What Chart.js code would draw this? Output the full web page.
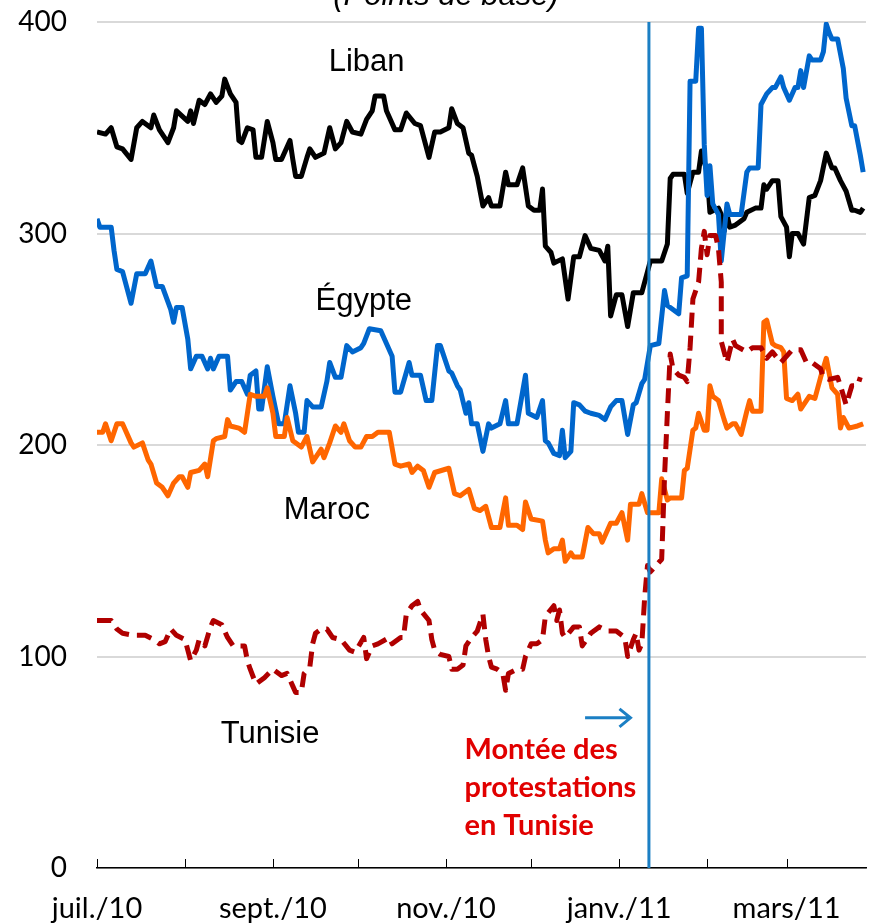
<!DOCTYPE html>
<html>
<head>
<meta charset="utf-8">
<script src="https://cdn.jsdelivr.net/npm/chart.js@4"></script>
<style>
  html, body { margin: 0; padding: 0; background: #fff; }
  #wrap { width: 873px; height: 924px; }
</style>
</head>
<body>
<div id="wrap"><canvas id="spreads" width="873" height="924"></canvas></div>
<script>
// x = days since 1 July 2010, y = spread in basis points
const monthDays = [0, 31, 62, 92, 123, 153, 184, 215, 243];
const monthLabels = ['juil./10', '', 'sept./10', '', 'nov./10', '', 'janv./11', '', 'mars/11'];
const yTicks = [0, 100, 200, 300, 400];
const protestDay = 194.5;

const libanData = [[0,348],[3,347],[5,350],[7,341],[9,340],[12,335],[14,350],[16,353],[19,350],[20,356],[22,349],[25,343],[27,350],[28,358],[32,353],[33,358],[34,352],[36,363],[38,361],[40,366],[42,362],[44,365],[45,373],[47,366],[49,362],[50,344],[51,343],[53,350],[55,349],[56,336],[58,336],[60,353],[62,343],[63,335],[65,335],[68,344],[69,335],[70,327],[72,327],[74,336],[75,340],[77,336],[80,338],[82,350],[84,340],[86,343],[88,353],[90,348],[93,347],[95,354],[97,358],[98,365],[101,365],[102,358],[105,349],[107,349],[109,357],[112,352],[114,351],[117,336],[119,348],[121,348],[124,350],[125,359],[127,352],[129,350],[131,338],[132,337],[134,327],[136,313],[138,317],[139,313],[142,313],[144,329],[145,323],[148,323],[150,331],[152,313],[154,311],[156,311],[157,321],[158,294],[160,291],[161,286],[164,288],[166,269],[168,289],[170,289],[172,299],[174,293],[177,292],[179,287],[180,294],[181,261],[183,271],[185,271],[187,256],[189,272],[192,272],[194,282],[195,287],[199,287],[201,295],[202,326],[203,328],[207,328],[208,319],[210,329],[212,329],[213,339],[215,329],[216,310],[219,312],[220,309],[221,301],[222,309],[223,303],[225,304],[228,307],[229,310],[232,312],[234,312],[235,323],[236,321],[238,325],[240,325],[241,308],[243,303],[244,289],[245,300],[247,300],[249,295],[251,317],[253,318],[255,325],[257,338],[259,331],[260,331],[262,325],[264,320],[266,311],[267,311],[269,310],[270,312]];

const egypteData = [[0,307],[1,303],[5,303],[6,292],[7,283],[9,282],[12,267],[14,281],[17,281],[19,287],[21,275],[23,275],[26,264],[27,258],[28,265],[30,265],[32,250],[33,236],[35,242],[37,242],[39,236],[40,241],[41,236],[43,242],[46,242],[47,226],[49,230],[51,230],[53,224],[54,233],[56,235],[57,217],[58,217],[60,237],[62,223],[64,210],[66,210],[68,228],[70,215],[71,206],[73,206],[74,221],[76,218],[79,218],[81,230],[82,239],[84,232],[86,232],[88,247],[90,244],[93,246],[94,248],[96,255],[100,254],[102,248],[104,242],[105,225],[107,225],[110,239],[111,233],[114,233],[116,221],[118,221],[120,247],[121,247],[124,235],[125,234],[127,228],[128,226],[130,215],[131,220],[132,210],[134,210],[136,197],[138,210],[139,208],[142,210],[144,221],[145,210],[148,210],[151,233],[152,215],[155,213],[157,221],[158,202],[159,201],[161,196],[163,195],[164,207],[165,194],[167,197],[168,220],[170,219],[172,216],[174,215],[177,214],[179,212],[181,218],[183,221],[185,221],[187,205],[189,219],[190,220],[192,229],[193,231],[195,247],[198,248],[200,273],[201,266],[202,265],[205,262],[206,279],[208,280],[209,372],[211,372],[212,397],[213,397],[214,342],[215,318],[216,332],[217,314],[219,309],[220,287],[222,314],[223,309],[227,309],[229,329],[230,331],[233,331],[234,361],[236,366],[238,369],[239,369],[241,374],[242,369],[244,363],[246,369],[247,369],[248,377],[249,369],[251,384],[252,382],[255,382],[256,386],[257,399],[258,395],[259,392],[261,392],[263,378],[264,364],[266,351],[267,351],[269,337],[270,329]];

const marocData = [[0,206],[2,206],[3,210],[5,202],[7,210],[9,210],[12,201],[13,199],[16,201],[18,193],[19,191],[21,182],[23,180],[25,176],[27,182],[29,185],[30,185],[32,180],[33,187],[36,188],[38,191],[39,185],[41,202],[42,203],[45,204],[46,212],[47,209],[50,208],[52,206],[54,224],[56,223],[59,223],[60,227],[62,215],[63,204],[66,204],[67,213],[69,202],[72,199],[74,204],[76,192],[79,198],[80,194],[82,201],[84,209],[86,206],[87,210],[89,202],[91,199],[93,199],[95,204],[97,204],[99,206],[103,206],[105,191],[107,190],[110,191],[111,187],[113,190],[115,188],[117,180],[119,187],[124,189],[126,177],[128,176],[131,179],[133,170],[135,169],[137,171],[139,161],[142,161],[144,175],[145,162],[148,162],[150,160],[151,173],[153,165],[157,164],[158,155],[159,149],[161,151],[163,151],[164,155],[165,145],[167,149],[168,147],[171,147],[173,161],[175,158],[177,158],[178,154],[181,163],[183,163],[185,168],[187,155],[188,172],[191,172],[192,177],[194,168],[198,168],[199,184],[201,174],[202,175],[206,175],[207,188],[208,189],[210,207],[211,208],[212,215],[214,207],[215,207],[216,228],[217,223],[219,221],[221,212],[222,208],[224,210],[225,210],[227,205],[229,216],[230,221],[231,216],[234,216],[235,258],[236,259],[238,248],[239,247],[241,246],[242,244],[243,222],[245,221],[247,224],[248,217],[251,223],[253,222],[255,232],[257,241],[259,227],[261,224],[262,208],[263,213],[265,208],[268,209],[270,210]];

const tunisieData = [[0,117],[5,117],[7,113],[9,111],[13,110],[17,110],[20,108],[22,106],[24,107],[26,113],[28,110],[31,108],[33,98],[35,103],[36,108],[38,105],[40,114],[41,117],[44,115],[46,109],[48,105],[52,105],[53,98],[54,94],[56,87],[59,90],[62,94],[65,91],[67,92],[69,86],[70,83],[72,83],[73,92],[75,95],[76,106],[77,111],[79,113],[81,113],[83,109],[86,108],[89,103],[91,102],[94,109],[95,99],[97,105],[99,106],[103,109],[104,106],[107,109],[108,109],[109,120],[111,124],[113,126],[114,122],[117,117],[118,108],[119,103],[121,101],[124,100],[125,94],[127,94],[129,96],[130,105],[132,109],[134,112],[136,120],[137,108],[138,100],[139,95],[141,94],[143,92],[144,84],[145,92],[148,94],[150,94],[151,100],[153,106],[155,106],[157,108],[158,119],[161,124],[162,117],[163,122],[164,111],[165,109],[168,114],[170,114],[171,105],[174,111],[177,114],[180,112],[183,112],[186,109],[187,100],[189,108],[190,111],[191,103],[192,106],[193,128],[194,143],[195,140],[197,143],[199,146],[200,185],[201,215],[202,243],[203,236],[205,233],[207,232],[208,230],[209,246],[210,269],[212,277],[213,293],[214,301],[215,290],[216,299],[218,299],[219,293],[220,277],[220,249],[221,244],[222,239],[224,250],[225,247],[229,244],[231,246],[234,246],[236,241],[238,244],[241,239],[245,245],[248,245],[250,239],[252,239],[255,236],[256,232],[258,231],[261,232],[262,228],[264,219],[266,228],[268,228],[269,232]];

// where the country names and the note sit, in axis units
const seriesNames = [
    { text: 'Liban', day: 95, value: 381 },
    { text: 'Égypte', day: 94, value: 268 },
    { text: 'Maroc', day: 81, value: 169 },
    { text: 'Tunisie', day: 61, value: 63 }
];
const noteLines = ['Montée des', 'protestations', 'en Tunisie'];

function toPoints(pairs) {
    return pairs.map(p => ({ x: p[0], y: p[1] }));
}

const annotations = {
    id: 'annotations',
    afterDatasetsDraw(chart) {
        const { ctx, chartArea, scales: { x, y } } = chart;
        ctx.save();

        // protest marker
        const px = x.getPixelForValue(protestDay);
        ctx.strokeStyle = '#1b7fc4';
        ctx.lineWidth = 3;
        ctx.beginPath();
        ctx.moveTo(px, chartArea.top);
        ctx.lineTo(px, chartArea.bottom);
        ctx.stroke();

        // arrow pointing at it
        const ay = y.getPixelForValue(71);
        const ax0 = x.getPixelForValue(172);
        const ax1 = x.getPixelForValue(188);
        ctx.lineWidth = 3;
        ctx.beginPath();
        ctx.moveTo(ax0, ay);
        ctx.lineTo(ax1, ay);
        ctx.moveTo(ax1 - 11, ay - 9);
        ctx.lineTo(ax1, ay);
        ctx.lineTo(ax1 - 11, ay + 9);
        ctx.stroke();

        // country names
        ctx.fillStyle = '#000';
        ctx.font = '31px "Liberation Sans", Arial, sans-serif';
        ctx.textAlign = 'center';
        ctx.textBaseline = 'middle';
        seriesNames.forEach(s => {
            ctx.fillText(s.text, x.getPixelForValue(s.day), y.getPixelForValue(s.value));
        });

        // note in red
        ctx.fillStyle = '#e10000';
        ctx.font = 'bold 29px Lato, "Liberation Sans", sans-serif';
        ctx.textAlign = 'left';
        const nx = x.getPixelForValue(129.5);
        noteLines.forEach((line, i) => {
            ctx.fillText(line, nx, y.getPixelForValue(56 - i * 18));
        });

        // title, cut by the top edge as in the source
        ctx.fillStyle = '#000';
        ctx.font = 'italic 31px "Liberation Sans", Arial, sans-serif';
        ctx.textAlign = 'center';
        ctx.textBaseline = 'alphabetic';
        ctx.fillText('(Points de base)', x.getPixelForValue(123), 5);
        ctx.restore();
    },
    afterDraw(chart) {
        const { ctx, chartArea, scales: { x } } = chart;
        ctx.save();
        ctx.strokeStyle = '#000';
        ctx.lineWidth = 1;
        x.ticks.forEach(t => {
            const px = Math.round(x.getPixelForValue(t.value)) + 0.5;
            ctx.beginPath();
            ctx.moveTo(px, chartArea.bottom);
            ctx.lineTo(px, chartArea.bottom - 9);
            ctx.stroke();
        });
        ctx.restore();
    }
};

const ctx = document.getElementById('spreads').getContext('2d');
new Chart(ctx, {
    type: 'line',
    data: {
        datasets: [
            {
                label: 'Tunisie',
                data: toPoints(tunisieData),
                borderColor: '#b00000',
                borderWidth: 5,
                borderDash: [15, 8]
            },
            {
                label: 'Maroc',
                data: toPoints(marocData),
                borderColor: '#ff6600',
                borderWidth: 5
            },
            {
                label: 'Égypte',
                data: toPoints(egypteData),
                borderColor: '#0066cc',
                borderWidth: 5
            },
            {
                label: 'Liban',
                data: toPoints(libanData),
                borderColor: '#000000',
                borderWidth: 5
            }
        ]
    },
    options: {
        responsive: false,
        animation: false,
        layout: { padding: { top: 0, left: 0, right: 7, bottom: 0 } },
        elements: {
            point: { radius: 0, hoverRadius: 0 },
            line: { tension: 0, borderJoinStyle: 'round', fill: false }
        },
        plugins: {
            legend: { display: false },
            tooltip: { enabled: false }
        },
        scales: {
            x: {
                type: 'linear',
                min: 0,
                max: 271,
                afterBuildTicks: scale => {
                    scale.ticks = monthDays.map(v => ({ value: v }));
                },
                afterFit: scale => {
                    scale.height = 56;
                    scale.paddingLeft = 0;
                    scale.paddingRight = 0;
                },
                ticks: {
                    autoSkip: false,
                    maxRotation: 0,
                    padding: 15,
                    color: '#000',
                    font: { family: 'Lato', size: 29 },
                    callback: (value, index) => monthLabels[index]
                },
                grid: { display: false },
                border: { display: true, color: '#000', width: 1.5 }
            },
            y: {
                min: 0,
                max: 400,
                afterBuildTicks: scale => {
                    scale.ticks = yTicks.map(v => ({ value: v }));
                },
                afterFit: scale => {
                    scale.width = 97;
                    scale.paddingTop = 22;
                    scale.paddingBottom = 0;
                },
                ticks: {
                    padding: 30,
                    color: '#000',
                    font: { family: 'Lato', size: 28 }
                },
                grid: { color: '#d9d9d9', lineWidth: 2, drawTicks: false },
                border: { display: false }
            }
        }
    },
    plugins: [annotations]
});
</script>
</body>
</html>
